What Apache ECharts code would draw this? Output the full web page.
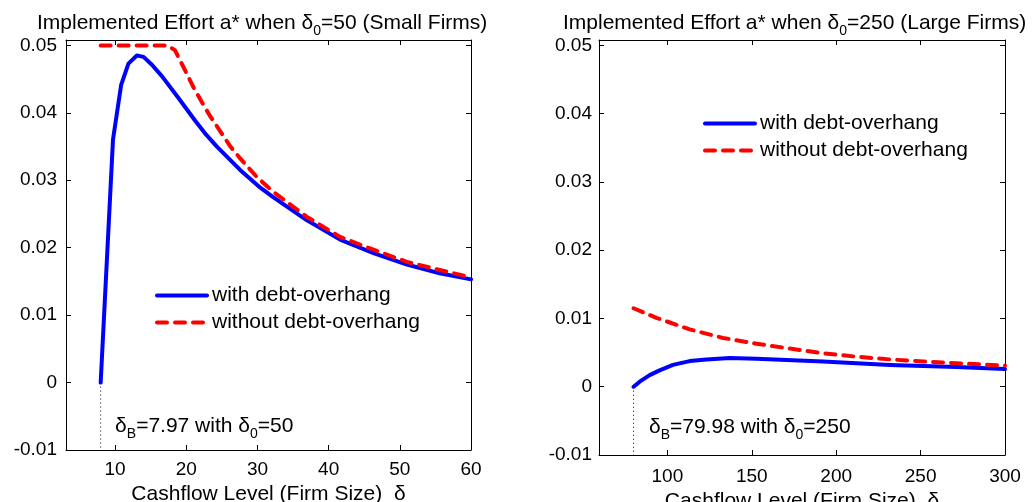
<!DOCTYPE html>
<html>
<head>
<meta charset="utf-8">
<script src="https://cdn.jsdelivr.net/npm/echarts@6/dist/echarts.min.js"></script>
<style>
html,body{margin:0;padding:0;background:#fff;}
#chart{width:1035px;height:502px;}
</style>
</head>
<body>
<div id="chart"></div>
<script>
// ---- data ----
var seriesNames = ['with debt-overhang', 'without debt-overhang'];

// Left panel: delta0 = 50 (small firms)
var smallWith = [
  [7.97, 0.0], [9.7, 0.0360], [10.84, 0.0441], [11.87, 0.0473], [13.05, 0.0485],
  [14.0, 0.0483], [15.2, 0.0471], [16.6, 0.0454], [18.9, 0.0422], [21.2, 0.0389],
  [22.6, 0.0370], [24.3, 0.0350], [27.6, 0.0315], [30.4, 0.0289], [32.2, 0.0275],
  [36.9, 0.0241], [41.6, 0.0212], [46.3, 0.0192], [51.0, 0.0175], [55.6, 0.0162],
  [60.0, 0.0153]
];
var smallWithout = [
  [7.97, 0.0500], [17.3, 0.0500], [18.4, 0.0493], [19.6, 0.0468], [21.0, 0.0438],
  [22.4, 0.0412], [23.3, 0.0396], [26.2, 0.0350], [27.6, 0.0332], [29.9, 0.0305],
  [32.2, 0.0283], [36.9, 0.0246], [41.6, 0.0216], [46.3, 0.0197], [51.0, 0.0179],
  [55.6, 0.0167], [60.0, 0.0156]
];

// Right panel: delta0 = 250 (large firms)
var largeWith = [
  [79.98, 0.0], [83.6, 0.00074], [89.5, 0.0017], [95.4, 0.0024], [103.3, 0.0032],
  [113.2, 0.00376], [123.1, 0.0040], [137.0, 0.0042], [152.8, 0.0041],
  [192.3, 0.0037], [231.9, 0.0032], [271.4, 0.0029], [300.0, 0.0026]
];
var largeWithout = [
  [79.98, 0.0115], [93.5, 0.0101], [113.2, 0.0084], [133.0, 0.00715], [152.8, 0.0063],
  [172.5, 0.0056], [192.3, 0.0049], [212.1, 0.0044], [231.9, 0.0040], [251.6, 0.0037],
  [271.4, 0.00345], [300.0, 0.0031]
];

var deltaBSmall = 7.97;
var deltaBLarge = 79.98;

// ticks
var leftXTicks = [10, 20, 30, 40, 50, 60];
var rightXTicks = [100, 150, 200, 250, 300];
var yTicks = [-0.01, 0, 0.01, 0.02, 0.03, 0.04, 0.05];
var yTickLabels = ['-0.01', '0', '0.01', '0.02', '0.03', '0.04', '0.05'];

// ---- chart ----
var FONT = '"Liberation Sans", Arial, Helvetica, sans-serif';
var chart = echarts.init(document.getElementById('chart'), null, {renderer: 'canvas'});

function yFmt(v) {
  for (var i = 0; i < yTicks.length; i++) {
    if (Math.abs(yTicks[i] - v) < 1e-9) return yTickLabels[i];
  }
  return '';
}

function xAxisPair(grid, min, max, ticks, nameGap, labelMargin) {
  var common = {
    type: 'value', gridIndex: grid, min: min, max: max,
    splitLine: {show: false},
    axisLine: {show: true, onZero: false, lineStyle: {color: '#000', width: 1}},
    axisTick: {show: true, inside: true, length: 5, customValues: ticks, lineStyle: {color: '#000'}}
  };
  var bottom = Object.assign({}, common, {
    position: 'bottom',
    axisLabel: {show: true, customValues: ticks, margin: labelMargin, color: '#000', fontSize: 19, fontFamily: FONT},
    name: 'Cashflow Level (Firm Size)  δ',
    nameLocation: 'middle', nameGap: nameGap,
    nameTextStyle: {color: '#000', fontSize: 21, fontFamily: FONT}
  });
  var top = Object.assign({}, common, {
    position: 'top',
    axisLabel: {show: false}
  });
  return [bottom, top];
}

function yAxisPair(grid, labelMargin) {
  var common = {
    type: 'value', gridIndex: grid, min: -0.01, max: 0.0508,
    splitLine: {show: false},
    axisLine: {show: true, onZero: false, lineStyle: {color: '#000', width: 1}},
    axisTick: {show: true, inside: true, length: 5, customValues: yTicks, lineStyle: {color: '#000'}}
  };
  var left = Object.assign({}, common, {
    position: 'left',
    axisLabel: {show: true, customValues: yTicks, formatter: yFmt, margin: labelMargin, color: '#000', fontSize: 19, fontFamily: FONT}
  });
  var right = Object.assign({}, common, {
    position: 'right',
    axisLabel: {show: false}
  });
  return [left, right];
}

var lx = xAxisPair(0, 3.1, 60, leftXTicks, 29, 10);
var rx = xAxisPair(1, 59.5, 300, rightXTicks, 31, 12);
var ly = yAxisPair(0, 9);
var ry = yAxisPair(1, 7);

var subRich = {
  s: {fontSize: 14, fontFamily: FONT, color: '#000', padding: [16, 0, 0, 0]}
};

function lineSeries(name, data, xi, yi, color, dashed) {
  return {
    name: name, type: 'line', xAxisIndex: xi, yAxisIndex: yi,
    data: data, showSymbol: false, symbol: 'none', smooth: false,
    lineStyle: {color: color, width: 4, type: dashed ? [10, 8] : 'solid', cap: 'round', join: 'round'},
    itemStyle: {color: color},
    z: dashed ? 4 : 3
  };
}

function dottedSeries(xv, xi, yi) {
  return {
    type: 'line', xAxisIndex: xi, yAxisIndex: yi,
    data: [[xv, 0], [xv, -0.01]], showSymbol: false, symbol: 'none',
    lineStyle: {color: '#000', width: 1, type: [1, 3]}, z: 2
  };
}

function annotation(text, x, y, xi, yi) {
  return {
    type: 'scatter', xAxisIndex: xi, yAxisIndex: yi,
    data: [[x, y]], symbolSize: 0, silent: true,
    itemStyle: {opacity: 1},
    label: {
      show: true, position: 'right', distance: 0, opacity: 1,
      formatter: text, color: '#000', fontSize: 21, fontFamily: FONT,
      rich: subRich
    }
  };
}

var legendCommon = {
  orient: 'vertical', padding: 0, itemGap: 0, itemWidth: 50, itemHeight: 14,
  selectedMode: false,
  itemStyle: {opacity: 0},
  lineStyle: {width: 4},
  textStyle: {color: '#000', fontSize: 21, fontFamily: FONT, lineHeight: 27},
  data: seriesNames
};

var titleStyle = {color: '#000', fontSize: 21, fontWeight: 'normal', fontFamily: FONT, rich: subRich};

var option = {
  animation: false,
  backgroundColor: '#fff',
  title: [
    {text: 'Implemented Effort a* when δ{s|0}=50 (Small Firms)', left: 37, top: 8, padding: 0, textStyle: titleStyle},
    {text: 'Implemented Effort a* when δ{s|0}=250 (Large Firms)', left: 563, top: 8, padding: 0, textStyle: titleStyle}
  ],
  grid: [
    {left: 66, right: 564, top: 40, bottom: 52, containLabel: false, outerBoundsMode: 'none'},
    {left: 599, right: 30, top: 40, bottom: 47, containLabel: false, outerBoundsMode: 'none'}
  ],
  legend: [
    Object.assign({}, legendCommon, {left: 155, top: 282}),
    Object.assign({}, legendCommon, {left: 703, top: 110})
  ],
  xAxis: [lx[0], lx[1], rx[0], rx[1]],
  yAxis: [ly[0], ly[1], ry[0], ry[1]],
  series: [
    lineSeries(seriesNames[0], smallWith, 0, 0, '#0000ff', false),
    lineSeries(seriesNames[1], smallWithout, 0, 0, '#ff0000', true),
    dottedSeries(deltaBSmall, 0, 0),
    annotation('δ{s|B}=7.97 with δ{s|0}=50', 10.0, -0.0064, 0, 0),
    lineSeries(seriesNames[0], largeWith, 2, 2, '#0000ff', false),
    lineSeries(seriesNames[1], largeWithout, 2, 2, '#ff0000', true),
    dottedSeries(deltaBLarge, 2, 2),
    annotation('δ{s|B}=79.98 with δ{s|0}=250', 89.1, -0.0059, 2, 2)
  ]
};
chart.setOption(option);
</script>
</body>
</html>
